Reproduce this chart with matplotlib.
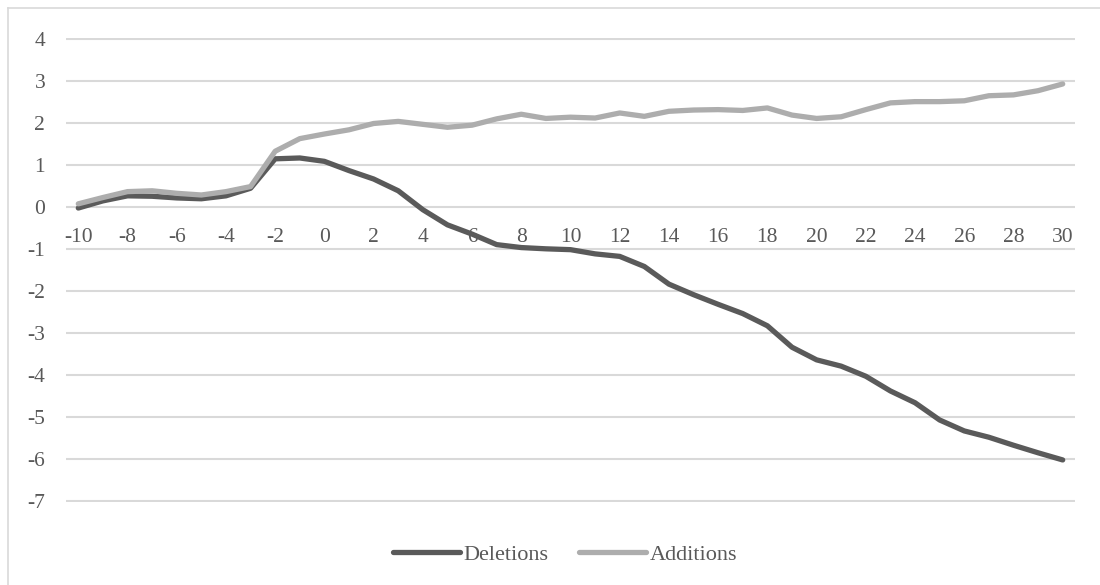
import matplotlib
matplotlib.use("Agg")
import matplotlib.pyplot as plt
from matplotlib.lines import Line2D

# ── Data ─────────────────────────────────────────────────────────────────────
days = list(range(-10, 31))

deletions = [-0.03, 0.14, 0.26, 0.25, 0.21, 0.19, 0.26, 0.44, 1.14, 1.16,
             1.08, 0.86, 0.66, 0.38, -0.07, -0.43, -0.65, -0.90, -0.97, -1.00,
             -1.02, -1.12, -1.18, -1.42, -1.84, -2.09, -2.32, -2.54, -2.83, -3.34,
             -3.64, -3.79, -4.03, -4.38, -4.66, -5.07, -5.33, -5.48, -5.67, -5.85,
             -6.02]

additions = [0.07, 0.22, 0.36, 0.38, 0.32, 0.28, 0.36, 0.48, 1.32, 1.62,
             1.73, 1.83, 1.98, 2.03, 1.96, 1.89, 1.94, 2.09, 2.20, 2.10,
             2.13, 2.11, 2.23, 2.15, 2.27, 2.30, 2.31, 2.29, 2.35, 2.18,
             2.10, 2.14, 2.31, 2.47, 2.50, 2.50, 2.52, 2.64, 2.66, 2.76,
             2.92]

x_ticks = list(range(-10, 31, 2))
y_ticks = list(range(-7, 5))

# ── Style ────────────────────────────────────────────────────────────────────
plt.rcParams['font.family'] = ['Liberation Serif', 'DejaVu Serif']
TEXT  = '#595959'
DARK  = '#5a5a5a'
LIGHT = '#adadad'
GRID  = '#d9d9d9'

fig = plt.figure(figsize=(11, 5.85), dpi=100)
ax = fig.add_axes([66 / 1100, 1 - 502 / 585, 1009 / 1100, 464.3 / 585])

ax.plot(days, deletions, color=DARK, lw=3.8, label='Deletions',
        solid_capstyle='round', solid_joinstyle='round', zorder=3)
ax.plot(days, additions, color=LIGHT, lw=3.8, label='Additions',
        solid_capstyle='round', solid_joinstyle='round', zorder=4)

ax.set_xlim(-10.5, 30.5)
ax.set_ylim(-7.02, 4.02)
ax.set_xticks(x_ticks)
ax.set_xticklabels([str(v) for v in x_ticks])
ax.set_yticks(y_ticks)
ax.set_yticklabels([str(v) for v in y_ticks])

# category labels sit just under the zero line
ax.spines['bottom'].set_position(('data', 0))
for s in ax.spines.values():
    s.set_visible(False)
ax.tick_params(axis='x', length=0, pad=15, labelsize=15.5, labelcolor=TEXT)
ax.tick_params(axis='y', length=0, pad=15, labelsize=15.5, labelcolor=TEXT)
ax.yaxis.grid(True, color=GRID, lw=1.5)
ax.set_axisbelow(True)

fig.legend(loc='center', bbox_to_anchor=(565 / 1100, 1 - 555 / 585), ncol=2,
           frameon=False, fontsize=16, labelcolor=TEXT, handlelength=3.0,
           handletextpad=0.15, columnspacing=1.4)

# outer chart-area border (left and top edges visible)
fig.add_artist(Line2D([8 / 1100, 8 / 1100], [0, 1 - 8 / 585],
                      transform=fig.transFigure, color=GRID, lw=1.2))
fig.add_artist(Line2D([8 / 1100, 1], [1 - 8 / 585, 1 - 8 / 585],
                      transform=fig.transFigure, color=GRID, lw=1.2))

fig.savefig('out.png', dpi=100)
